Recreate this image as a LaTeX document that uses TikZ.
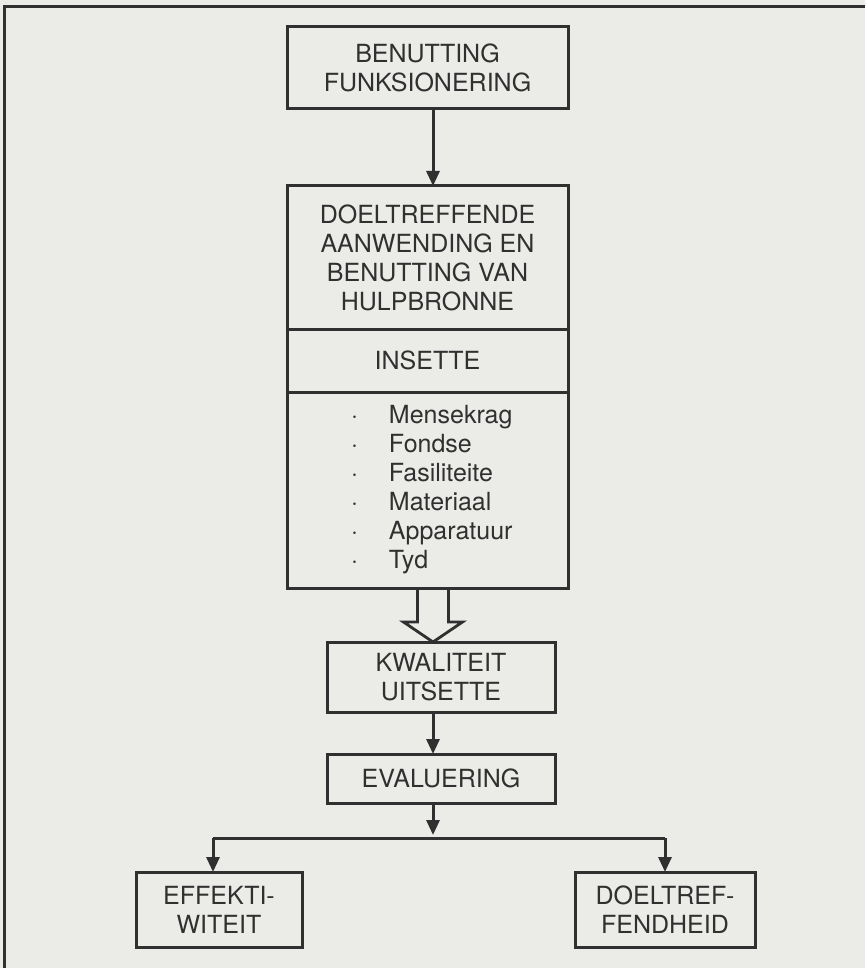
\documentclass[tikz,border=0pt]{standalone}
\usepackage{fontspec}
\setmainfont{TeX Gyre Heros}
\usetikzlibrary{positioning,calc,arrows.meta}
\definecolor{papier}{RGB}{235,235,232}
\definecolor{ink}{RGB}{48,48,48}
\tikzset{x=1pt, y=-1pt, node distance=40pt,
  kas/.style={draw=ink, text=ink, line width=3pt, rectangle, inner sep=0pt, outer sep=0pt,
    align=center, font=\fontsize{25}{29}\selectfont},
  lyn/.style={draw=ink, line width=3pt},
  pyl/.style={lyn, -{Triangle[length=15pt,width=13pt]}},
  hol/.style={draw=ink, line width=2.8pt}}
\newcommand{\punt}[1]{\hspace*{64pt}\makebox[38pt][l]{·}#1}

\begin{document}
\begin{tikzpicture}
  \useasboundingbox[fill=papier] (0,0) rectangle (865,968);
  \draw[ink, line width=2.2pt] (4.5,968) -- (4.5,6.5) -- (865,6.5);

  \node[kas, minimum width=281pt, minimum height=82pt] (benut) at (427.5,68) {BENUTTING\\FUNKSIONERING};
  \node[kas, minimum width=281pt, minimum height=143pt] (aanwend) [below=77pt of benut]
    {DOELTREFFENDE\\AANWENDING EN\\BENUTTING VAN\\HULPBRONNE};
  \node[kas, minimum width=281pt, minimum height=63pt] (insette) [below=0pt of aanwend] {INSETTE};
  \node[kas, minimum width=281pt, minimum height=196pt, text width=281pt, align=left] (hulp) [below=0pt of insette]
    {\punt{Mensekrag}\\\punt{Fondse}\\\punt{Fasiliteite}\\\punt{Materiaal}\\\punt{Apparatuur}\\\punt{Tyd}};
  \node[kas, minimum width=228pt, minimum height=70pt] (kwal) [below=54pt of hulp, xshift=13.5pt] {KWALITEIT\\UITSETTE};
  \node[kas, minimum width=228pt, minimum height=49pt] (eval) [below=42pt of kwal] {EVALUERING};
  \node[kas, minimum width=166pt, minimum height=75pt] (effek) [below=69pt of eval, xshift=-222pt] {EFFEKTI-\\WITEIT};
  \node[kas, minimum width=180pt, minimum height=75pt] (doel) [below=69pt of eval, xshift=224pt] {DOELTREF-\\FENDHEID};

  \coordinate (as) at (433,0);
  \coordinate (splits) at (433,838);
  \coordinate (linksbo) at (213,838);
  \coordinate (regsbo) at (665,838);

  \draw[pyl] (benut.south -| as) -- (aanwend.north -| as);
  \draw[hol] ($(hulp.south -| as)+(-15.5,0)$) -- ++(0,34) -- ++(-14,0) -- (kwal.north -| as)
    -- ++(29.5,-20) -- ++(-14,0) -- ++(0,-34);
  \draw[pyl] (kwal.south -| as) -- (eval.north -| as);
  \draw[pyl, shorten >=3pt] (eval.south -| as) -- (splits);
  \draw[lyn] (linksbo) -- (regsbo);
  \draw[pyl] (linksbo) -- (linksbo |- effek.north);
  \draw[pyl] (regsbo) -- (regsbo |- doel.north);
\end{tikzpicture}
\end{document}
